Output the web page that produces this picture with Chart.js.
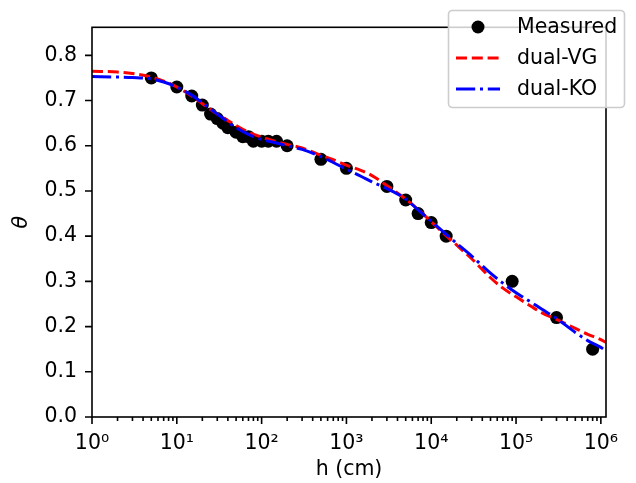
<!DOCTYPE html>
<html>
<head>
<meta charset="utf-8">
<script src="https://cdn.jsdelivr.net/npm/chart.js@4.4.0/dist/chart.umd.min.js"></script>
<style>
html, body { margin: 0; padding: 0; background: #fff; }
</style>
</head>
<body>
<canvas id="retention" width="636" height="483"></canvas>
<script>
// measured points
const hMeasured = [5, 10, 15, 20, 25, 30, 35, 40, 50, 60, 70, 80, 100, 120, 150, 200,
  500, 1000, 3000, 5000, 7000, 10000, 15000, 90000, 300000, 800000];
const thetaMeasured = [0.75, 0.73, 0.71, 0.69, 0.67, 0.66, 0.65, 0.64, 0.63, 0.62, 0.62, 0.61, 0.61, 0.61, 0.61, 0.60,
  0.57, 0.55, 0.51, 0.48, 0.45, 0.43, 0.40, 0.30, 0.22, 0.15];

// fitted curves
const hCurve = [1, 2, 3, 5, 7, 10, 15, 20, 30, 50, 70, 100, 150, 200, 300, 500, 700,
  1000, 1500, 2000, 3000, 5000, 7000, 1e4, 1.5e4, 2e4, 3e4, 5e4, 7e4,
  1e5, 1.5e5, 2e5, 3e5, 5e5, 7e5, 1e6, 1.15e6];
const thetaVG = [0.765, 0.763, 0.760, 0.752, 0.743, 0.730, 0.710, 0.693, 0.670, 0.645, 0.630, 0.619, 0.609, 0.603, 0.595, 0.579, 0.569,
  0.557, 0.545, 0.534, 0.512, 0.482, 0.459, 0.432, 0.401, 0.380, 0.350, 0.308, 0.285,
  0.266, 0.245, 0.231, 0.216, 0.196, 0.183, 0.171, 0.165];
const thetaKO = [0.753, 0.752, 0.751, 0.748, 0.741, 0.730, 0.712, 0.695, 0.670, 0.640, 0.625, 0.614, 0.606, 0.600, 0.592, 0.576, 0.563,
  0.548, 0.532, 0.520, 0.505, 0.482, 0.458, 0.433, 0.404, 0.384, 0.356, 0.318, 0.296,
  0.275, 0.254, 0.239, 0.218, 0.187, 0.169, 0.154, 0.146];

// axes
const xMajorTicks = [1, 10, 100, 1000, 1e4, 1e5, 1e6];
const xTickLabels = ['10⁰', '10¹', '10²', '10³', '10⁴', '10⁵', '10⁶'];
const yTicks = [0, 0.1, 0.2, 0.3, 0.4, 0.5, 0.6, 0.7, 0.8];

const FONT = 'DejaVu Sans';
const FSIZE = 20.5;

function pts(xs, ys) {
  return xs.map((x, i) => ({ x: x, y: ys[i] }));
}

// tick marks + frame, drawn outward like matplotlib
const frameTicks = {
  id: 'frameTicks',
  afterDatasetsDraw(chart) {
    const ctx = chart.ctx, a = chart.chartArea;
    const xs = chart.scales.x, ys = chart.scales.y;
    ctx.save();
    ctx.strokeStyle = '#000';
    ctx.lineWidth = 1.6;
    ctx.strokeRect(a.left, a.top, a.right - a.left, a.bottom - a.top);
    ctx.beginPath();
    xs.ticks.forEach(t => {
      const v = t.value;
      const e = Math.floor(Math.log10(v) + 1e-9);
      const m = v / Math.pow(10, e);
      if (Math.abs(m - Math.round(m)) > 1e-6) return;
      const px = xs.getPixelForValue(v);
      const len = Math.round(m) === 1 ? 7 : 4;
      ctx.moveTo(px, a.bottom);
      ctx.lineTo(px, a.bottom + len);
    });
    ys.ticks.forEach(t => {
      const py = ys.getPixelForValue(t.value);
      ctx.moveTo(a.left, py);
      ctx.lineTo(a.left - 7, py);
    });
    ctx.stroke();
    ctx.restore();
  },
  afterDraw(chart) {
    // legend box
    const ctx = chart.ctx;
    const bx = 448.5, by = 10.5, bw = 176, bh = 97, r = 4;
    ctx.save();
    ctx.beginPath();
    ctx.roundRect(bx, by, bw, bh, r);
    ctx.fillStyle = 'rgba(255,255,255,0.8)';
    ctx.fill();
    ctx.strokeStyle = '#cccccc';
    ctx.lineWidth = 1.6;
    ctx.stroke();
    const rows = [27, 58, 89];
    ctx.font = FSIZE + 'px "' + FONT + '"';
    ctx.textBaseline = 'middle';
    chart.data.datasets.forEach((ds, i) => {
      const y = rows[i];
      if (i === 0) {
        ctx.beginPath();
        ctx.arc(478, y, 6.5, 0, Math.PI * 2);
        ctx.fillStyle = '#000';
        ctx.fill();
      } else {
        ctx.beginPath();
        ctx.setLineDash(ds.borderDash);
        ctx.strokeStyle = ds.borderColor;
        ctx.lineWidth = ds.borderWidth;
        ctx.moveTo(456, y);
        ctx.lineTo(500, y);
        ctx.stroke();
        ctx.setLineDash([]);
      }
      ctx.fillStyle = '#000';
      ctx.fillText(ds.label, 517, y + 1);
    });
    ctx.restore();
  }
};

new Chart(document.getElementById('retention'), {
  type: 'scatter',
  data: {
    datasets: [
      {
        label: 'Measured',
        data: pts(hMeasured, thetaMeasured),
        pointRadius: 6.5,
        pointBackgroundColor: '#000',
        pointBorderWidth: 0,
        showLine: false,
        order: 3
      },
      {
        label: 'dual-VG',
        data: pts(hCurve, thetaVG),
        showLine: true,
        pointRadius: 0,
        borderColor: '#ff0000',
        borderWidth: 3,
        borderDash: [11, 4.8],
        cubicInterpolationMode: 'monotone',
        order: 2
      },
      {
        label: 'dual-KO',
        data: pts(hCurve, thetaKO),
        showLine: true,
        pointRadius: 0,
        borderColor: '#0000ff',
        borderWidth: 3,
        borderDash: [19.2, 4.8, 3, 4.8],
        cubicInterpolationMode: 'monotone',
        order: 1
      }
    ]
  },
  options: {
    responsive: false,
    animation: false,
    events: [],
    layout: { padding: { top: 23, right: 30, left: 0, bottom: 0 } },
    plugins: { legend: { display: false }, tooltip: { enabled: false } },
    scales: {
      x: {
        type: 'logarithmic',
        position: 'bottom',
        min: 1,
        max: 1.15e6,
        grid: { display: false, drawTicks: false },
        border: { display: false },
        afterBuildTicks: s => {
          const list = [];
          xMajorTicks.forEach(d => {
            for (let k = 1; k <= 9; k++) {
              if (d * k <= s.max) list.push({ value: d * k });
            }
          });
          s.ticks = list;
        },
        afterFit: s => { s.height = 66; },
        ticks: {
          autoSkip: false,
          maxRotation: 0,
          padding: 14,
          color: '#000',
          font: { family: FONT, size: FSIZE },
          callback: v => {
            const i = xMajorTicks.indexOf(v);
            return i >= 0 ? xTickLabels[i] : '';
          }
        },
        title: {
          display: true,
          text: 'h (cm)',
          color: '#000',
          font: { family: FONT, size: FSIZE },
          padding: { top: 0, bottom: 1 }
        }
      },
      y: {
        type: 'linear',
        min: 0,
        max: 0.862,
        grid: { display: false, drawTicks: false },
        border: { display: false },
        afterBuildTicks: s => { s.ticks = yTicks.map(v => ({ value: v })); },
        afterFit: s => { s.width = 92; },
        ticks: {
          padding: 15,
          color: '#000',
          font: { family: FONT, size: FSIZE },
          callback: v => v.toFixed(1)
        },
        title: {
          display: true,
          text: 'θ',
          color: '#000',
          font: { family: FONT, size: FSIZE, style: 'italic' },
          padding: { top: 9, bottom: 0 }
        }
      }
    }
  },
  plugins: [frameTicks]
});
</script>
</body>
</html>
